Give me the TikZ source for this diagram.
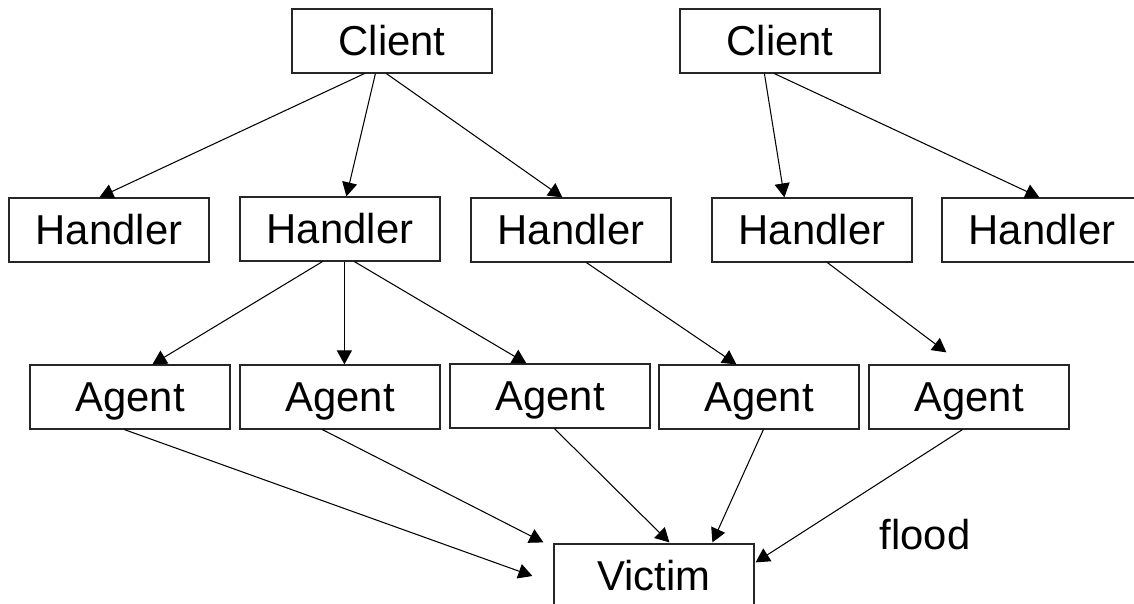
\documentclass[tikz,border=0pt]{standalone}
\usepackage{fontspec}
\setmainfont{Liberation Sans}
\usetikzlibrary{arrows.meta,calc}

\begin{document}
\begin{tikzpicture}[x=0.02cm, y=-0.02cm]

\tikzstyle{box}=[rectangle, draw=black!85, line width=0.7pt, minimum width=4cm, minimum height=1.28cm, inner sep=0pt, text height=16.9pt, text depth=0pt, font=\fontsize{23.8}{28}\selectfont]
\tikzstyle{arrow}=[-{Triangle[length=0.28cm,width=0.3cm]}, line width=0.6pt]

\useasboundingbox (0,0) rectangle (1134,604);

\node (C1)[box] at (392,41)   {Client};
\node (C2)[box] at (780,41)   {Client};

\node (H1)[box] at (109,230)  {Handler};
\node (H2)[box] at (340,229)  {Handler};
\node (H3)[box] at (571,230)  {Handler};
\node (H4)[box] at (812,230)  {Handler};
\node (H5)[box] at (1042,230) {Handler};

\node (A1)[box] at (130,397)  {Agent};
\node (A2)[box] at (340,397)  {Agent};
\node (A3)[box] at (550,396)  {Agent};
\node (A4)[box] at (759,397)  {Agent};
\node (A5)[box] at (969,397)  {Agent};

\node (V)[box] at (654,576)   {Victim};
\node (flood)[box, draw=none, minimum width=0pt] at (925,535) {flood};

\draw [arrow] ($(C1.south west)+(73,0)$) -- ($(H1.north west)+(91,0)$);
\draw [arrow] ($(C1.south west)+(84,0)$) -- ($(H2.north west)+(107,0)$);
\draw [arrow] ($(C1.south west)+(95,0)$) -- ($(H3.north west)+(92,0)$);
\draw [arrow] ($(C2.south west)+(85,0)$) -- ($(H4.north west)+(73,0)$);
\draw [arrow] ($(C2.south west)+(95,0)$) -- ($(H5.north west)+(98,0)$);

\draw [arrow] ($(H2.south west)+(83,0)$) -- ($(A1.north west)+(123,0)$);
\draw [arrow] ($(H2.south west)+(105,0)$) -- ($(A2.north west)+(105,0)$);
\draw [arrow] ($(H2.south west)+(115,0)$) -- ($(A3.north west)+(77,0)$);
\draw [arrow] ($(H3.south west)+(116,0)$) -- ($(A4.north west)+(78,0)$);
\draw [arrow] ($(H4.south west)+(116,0)$) -- ($(A5.north west)+(78,-12)$);

\draw [arrow] ($(A1.south west)+(95,0)$) -- ($(V.west)+(-21,0)$);
\draw [arrow] ($(A2.south west)+(83,0)$) -- ($(V.north west)+(-10,-1)$);
\draw [arrow] ($(A3.south west)+(105,0)$) -- ($(V.north west)+(116,-1)$);
\draw [arrow] ($(A4.south west)+(105,0)$) -- ($(V.north west)+(159,-1)$);
\draw [arrow] ($(A5.south west)+(94,0)$) -- ($(V.north east)+(1,19)$);

\end{tikzpicture}
\end{document}
